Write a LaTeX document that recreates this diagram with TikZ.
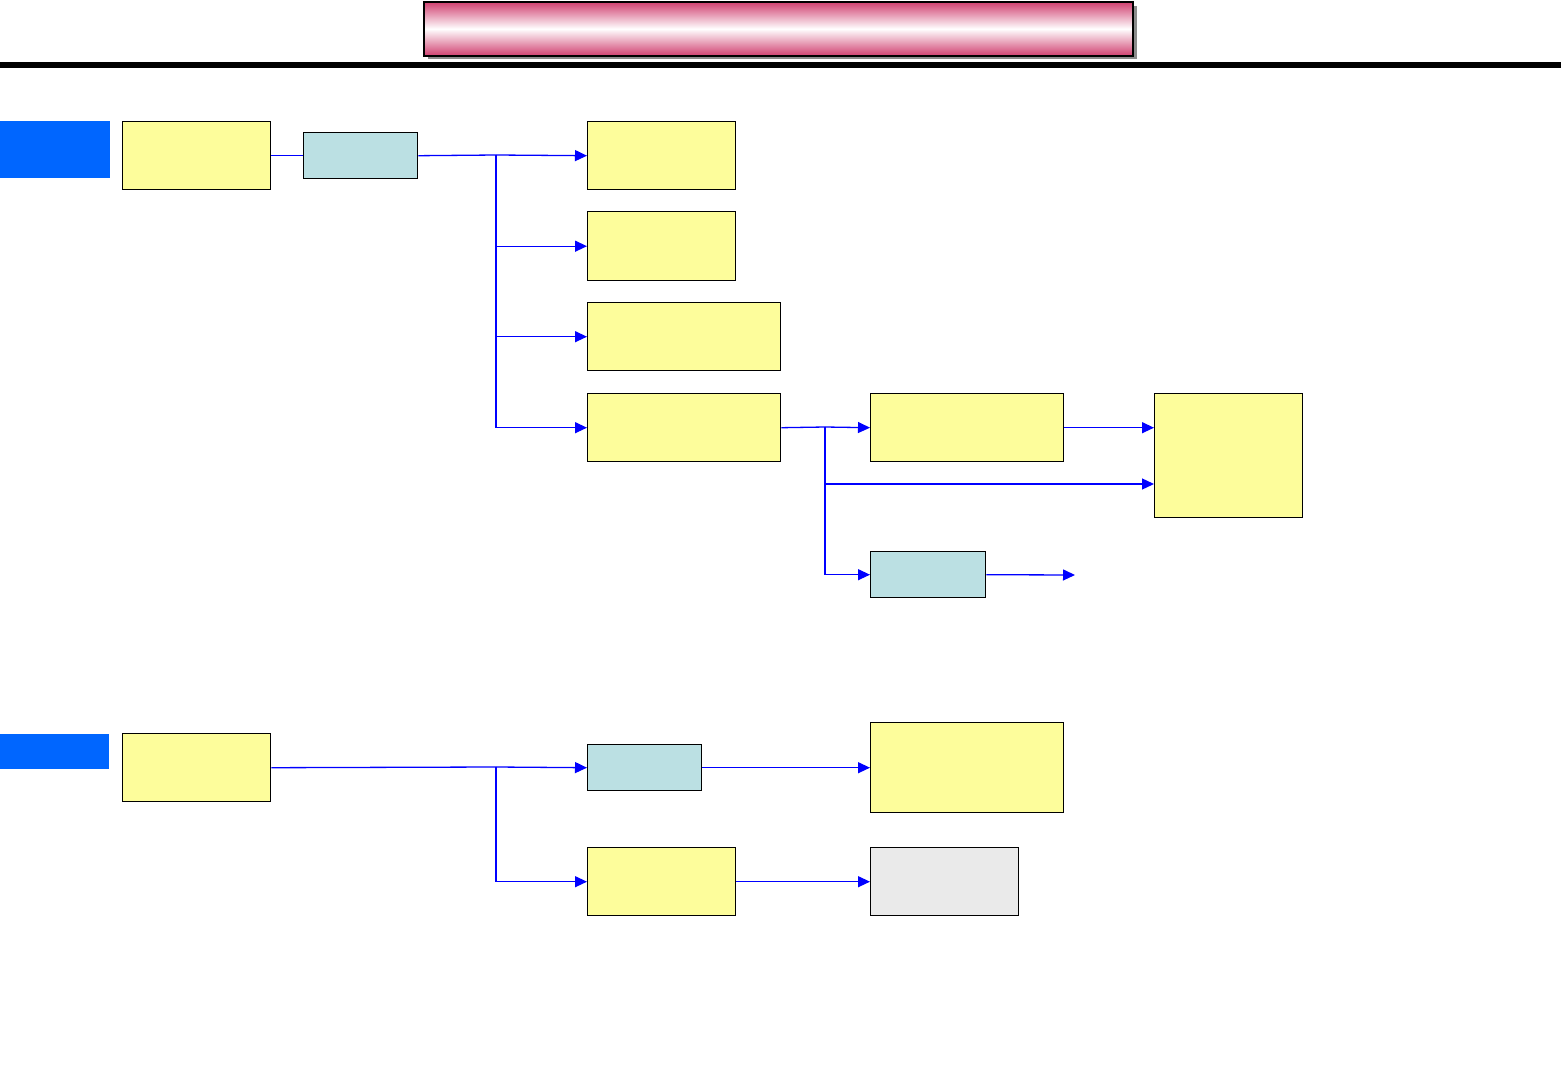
\documentclass[tikz,border=0pt]{standalone}
\usetikzlibrary{arrows.meta}
\definecolor{yfill}{RGB}{253,253,155}
\definecolor{cfill}{RGB}{187,224,227}
\definecolor{gfill}{RGB}{234,234,234}
\definecolor{bluetab}{RGB}{0,102,255}
\definecolor{pinkc}{RGB}{208,64,112}
\definecolor{conncol}{RGB}{0,0,255}
\tikzset{
  boxbase/.style={draw=black, line width=1.4pt, inner sep=0pt, anchor=north west},
  ybox/.style={boxbase, fill=yfill},
  cbox/.style={boxbase, fill=cfill},
  gbox/.style={boxbase, fill=gfill},
  tab/.style={fill=bluetab, inner sep=0pt, anchor=north west},
  conn/.style={draw=conncol, line width=1.3pt},
  arr/.style={conn, -{Triangle[length=12pt,width=11pt]}},
}
\begin{document}
\begin{tikzpicture}[x=1pt,y=-1pt]
\useasboundingbox (0,0) rectangle (1561,1081);
% title bar
\fill[gray!90] (428,6) rectangle (1137,59);
\node[draw=black, line width=1.6pt, inner sep=0pt, anchor=north west,
  minimum width=709pt, minimum height=54pt,
  top color=pinkc, bottom color=pinkc, middle color=white] (title) at (423,1) {};
\fill[black] (0,62) rectangle (1561,68);
% tabs
\node[tab, minimum width=110pt, minimum height=57pt] (tab1) at (0,121) {};
\node[tab, minimum width=109pt, minimum height=35pt] (tab2) at (0,734) {};
% top section
\node[ybox, minimum width=148pt, minimum height=68pt] (A) at (122,121) {};
\node[cbox, minimum width=114pt, minimum height=46pt] (B) at (303,132) {};
\node[ybox, minimum width=148pt, minimum height=68pt] (C1) at (587,121) {};
\node[ybox, minimum width=148pt, minimum height=69pt] (C2) at (587,211) {};
\node[ybox, minimum width=193pt, minimum height=68pt] (C3) at (587,302) {};
\node[ybox, minimum width=193pt, minimum height=68pt] (C4) at (587,393) {};
\node[ybox, minimum width=193pt, minimum height=68pt] (D1) at (870,393) {};
\node[ybox, minimum width=148pt, minimum height=124pt] (E) at (1154,393) {};
\node[cbox, minimum width=115pt, minimum height=46pt] (D2) at (870,551) {};
\coordinate (j1) at (496,155);
\coordinate (j2) at (825,427);
\coordinate (e2) at (1154,484);
\coordinate (free) at (1075,575);
\draw[conn] (A.east) -- (B.west);
\draw[conn] (B.east) -- (j1);
\draw[arr] (j1) -- (C1.west);
\draw[arr] (j1) |- (C2.west);
\draw[arr] (j1) |- (C3.west);
\draw[arr] (j1) |- (C4.west);
\draw[conn] (C4.east) -- (j2);
\draw[arr] (j2) -- (D1.west);
\draw[arr] (D1.east) -- (D1.east -| E.west);
\draw[arr] (j2) |- (e2);
\draw[arr] (j2) |- (D2.west);
\draw[arr] (D2.east) -- (free);
% bottom section
\node[ybox, minimum width=148pt, minimum height=68pt] (F) at (122,733) {};
\node[cbox, minimum width=114pt, minimum height=46pt] (G) at (587,744) {};
\node[ybox, minimum width=193pt, minimum height=90pt] (H) at (870,722) {};
\node[ybox, minimum width=148pt, minimum height=68pt] (I) at (587,847) {};
\node[gbox, minimum width=148pt, minimum height=68pt] (J) at (870,847) {};
\coordinate (j3) at (496,767);
\draw[conn] (F.east) -- (j3);
\draw[arr] (j3) -- (G.west);
\draw[arr] (G.east) -- (G.east -| H.west);
\draw[arr] (j3) |- (I.west);
\draw[arr] (I.east) -- (J.west);
\end{tikzpicture}
\end{document}
